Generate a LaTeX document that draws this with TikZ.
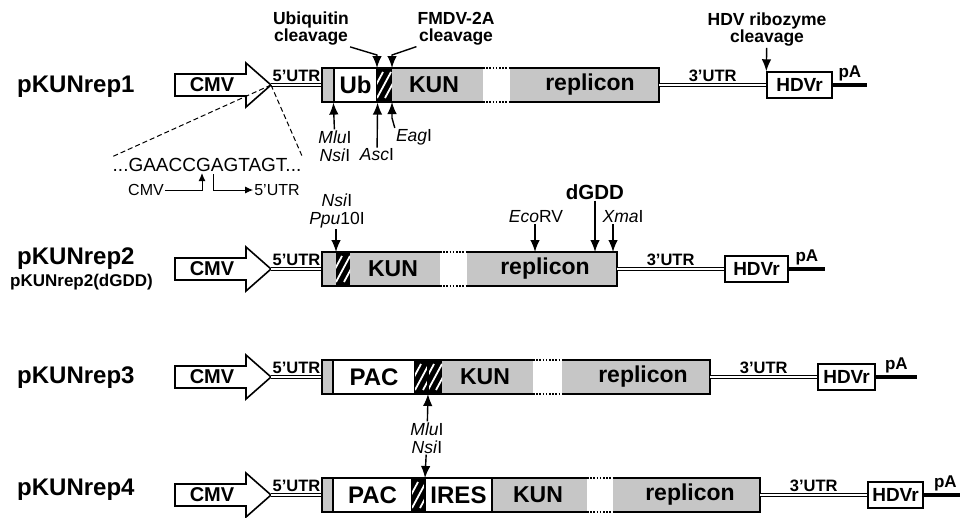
\documentclass[tikz,border=0pt]{standalone}
\usepackage{fontspec}
\setmainfont{Liberation Sans}
\usetikzlibrary{arrows.meta}

\newcommand{\pxfont}[2]{\fontsize{#1}{#2}\selectfont}
% shaded body of the replicon, white gap left open
\newcommand{\replfill}[5]{%
  \fill[gray!45] (#1,#5-17) rectangle (#4,#5+17);
  \fill[white] (#2,#5-17) rectangle (#3,#5+17);}
% frame round the body, dotted over the gap
\newcommand{\replframe}[5]{%
  \draw[line width=2.2pt] (#2,#5-17) -- (#1,#5-17) -- (#1,#5+17) -- (#2,#5+17);
  \draw[line width=2.2pt] (#3,#5-17) -- (#4,#5-17) -- (#4,#5+17) -- (#3,#5+17);
  \draw[line width=1.6pt, dash pattern=on 1.6pt off 1.6pt]
    (#2,#5-17) -- (#3,#5-17) (#2,#5+17) -- (#3,#5+17);}
% black block with white stripes (2A / linker)
\newcommand{\hatchblock}[3]{%
  \fill[black] (#1,#3-17) rectangle (#2,#3+17);
  \begin{scope}
    \clip (#1,#3-17) rectangle (#2,#3+17);
    \foreach \k in {-24,-16,...,24}
      \draw[white, line width=1.8pt] (#1+\k,#3+13) -- ++(14,-26);
  \end{scope}}

\begin{document}
\begin{tikzpicture}[
    x=1pt, y=-1pt,
    >={Latex[length=12pt,width=9.5pt]},
    rowname/.style={anchor=west, inner sep=0pt, font=\pxfont{24}{24}\bfseries},
    promoter/.style={draw, fill=white, line width=1.6pt, line join=miter},
    cmvtext/.style={inner sep=0pt, font=\pxfont{20}{20}\bfseries},
    utr/.style={double, double distance=2.2pt, line width=0.9pt},
    utrtext/.style={above, inner sep=2.5pt, font=\pxfont{16.5}{16.5}\bfseries},
    whitebox/.style={draw, fill=white, line width=1.2pt, minimum height=34pt, inner sep=0pt, font=\pxfont{24}{24}\bfseries},
    bodytext/.style={inner sep=0pt, font=\pxfont{23}{23}\bfseries},
    hdvbox/.style={draw, fill=white, line width=1.4pt, minimum height=26pt, inner sep=0pt, font=\pxfont{19}{19}\bfseries},
    polyA/.style={line width=4pt},
    patext/.style={above, inner sep=2pt, font=\pxfont{17}{17}\bfseries},
    cleave/.style={align=center, inner sep=1pt, font=\pxfont{17.5}{17}\bfseries},
    enz/.style={align=center, inner sep=1pt, font=\pxfont{17.5}{18}},
    site/.style={->, line width=1.4pt},
    thinsite/.style={-{Latex[length=8pt,width=7pt]}, line width=1pt},
    zoomline/.style={line width=1pt, dash pattern=on 5pt off 3pt},
]
    \useasboundingbox (0,0) rectangle (960,517);

    % Construct names
    \node[rowname] (rep1) at (17,87) {pKUNrep1};
    \node[rowname] (rep2) at (17,259) {pKUNrep2};
    \node[rowname, font=\pxfont{17}{17}\bfseries] (rep2d) at (10,282) {pKUNrep2(dGDD)};
    \node[rowname] (rep3) at (17,378) {pKUNrep3};
    \node[rowname] (rep4) at (17,490) {pKUNrep4};

    % CMV promoter and 5'UTR, same in every row
    \foreach \y/\r in {85/1, 269/2, 377/3, 495/4}{
        \draw[promoter] (175,\y-11) -- (246,\y-11) -- (246,\y-22) -- (271,\y)
            -- (246,\y+22) -- (246,\y+11) -- (175,\y+11) -- cycle;
        \node[cmvtext] (cmv\r) at (212,\y) {CMV};
        \coordinate (tip\r) at (271,\y);
        \draw[utr] (tip\r) -- node[utrtext] (utr5\r) {5'UTR} (322,\y);
    }

    % pKUNrep1
    \replfill{322}{483}{510}{659}{85}
    \node[whitebox, minimum width=43pt] (ub) at (355.5,85) {Ub};
    \hatchblock{377}{392}{85}
    \replframe{322}{483}{510}{659}{85}
    \node[bodytext] (kun1) at (434,85) {KUN};
    \node[bodytext] (repl1) at (590,85) {replicon};
    \coordinate (end1) at (659,85);
    \node[hdvbox, minimum width=65pt] (hdv1) at (799.5,85) {HDVr};
    \draw[utr] (end1) -- node[utrtext] (utr31) {3'UTR} (hdv1);
    \coordinate (pa1end) at (867,85);
    \draw[polyA] (hdv1) -- node[patext] (pa1) {pA} (pa1end);

    % cleavage sites above rep1
    \coordinate (ubcut) at (377,68);
    \coordinate (fmcut) at (392,68);
    \coordinate (ubbend) at (377,55);
    \coordinate (fmbend) at (392,55);
    \node[cleave] (ubq) at (311,29) {Ubiquitin\\cleavage};
    \node[cleave] (fmdv) at (456,29) {FMDV-2A\\cleavage};
    \node[cleave] (hdvcl) at (767,30) {HDV ribozyme\\cleavage};
    \draw[site] (ubq.south east) -- (ubbend) -- (ubcut);
    \draw[site] (fmdv.south west) -- (fmbend) -- (fmcut);
    \draw[site] (hdvcl) -- (hdv1.north west);

    % restriction sites below rep1
    \coordinate (fmlow) at (392,102);
    \coordinate (eagbend) at (392,118);
    \node[enz] (mlu1) at (335,146) {\textit{Mlu}I\\\textit{Nsi}I};
    \node[enz] (asc1) at (377,155) {\textit{Asc}I};
    \node[enz] (eag1) at (414,137) {\textit{Eag}I};
    \draw[site] (mlu1) -- (ub.south west);
    \draw[site] (asc1) -- (ub.south east);
    \draw[site] (eag1.north west) -- (eagbend) -- (fmlow);

    % transcription start, blown up
    \node[inner sep=1pt, font=\pxfont{19}{19}] (seq) at (207,165) {...GAACCGAGTAGT...};
    \draw[zoomline] (tip1) -- (seq.north west);
    \draw[zoomline] (tip1) -- (seq.north east);
    \node[inner sep=1pt, font=\pxfont{16}{16}] (cmvs) at (146,190) {CMV};
    \node[inner sep=1pt, font=\pxfont{16}{16}] (utrs) at (277,190) {5'UTR};
    \coordinate (tssa) at (202,173);
    \coordinate (tssb) at (213,174);
    \draw[thinsite] (cmvs) -- (cmvs -| tssa) -- (tssa);
    \draw[thinsite] (tssb) -- (tssb |- utrs) -- (utrs);

    % pKUNrep2
    \replfill{322}{440}{467}{617}{269}
    \hatchblock{336}{350}{269}
    \replframe{322}{440}{467}{617}{269}
    \node[bodytext] (kun2) at (393,269) {KUN};
    \node[bodytext] (repl2) at (545,269) {replicon};
    \coordinate (end2) at (617,269);
    \node[hdvbox, minimum width=63pt] (hdv2) at (756.5,269) {HDVr};
    \draw[utr] (end2) -- node[utrtext] (utr32) {3'UTR} (hdv2);
    \coordinate (pa2end) at (825,269);
    \draw[polyA] (hdv2) -- node[patext] (pa2) {pA} (pa2end);

    % sites on rep2
    \coordinate (cut2a) at (336,252);
    \coordinate (cut2b) at (535,252);
    \coordinate (cut2c) at (595,252);
    \coordinate (cut2d) at (613,252);
    \node[enz] (nsi2) at (337,211) {\textit{Nsi}I\\\textit{Ppu}10I};
    \node[enz] (eco2) at (536,217) {\textit{Eco}RV};
    \node[inner sep=1pt, font=\pxfont{20.5}{20.5}\bfseries] (dgdd) at (595,192) {dGDD};
    \node[enz] (xma2) at (623,217) {\textit{Xma}I};
    \draw[site] (nsi2.south -| cut2a) -- (cut2a);
    \draw[site] (eco2.south -| cut2b) -- (cut2b);
    \draw[site] (dgdd) -- (cut2c);
    \draw[site] (xma2.south -| cut2d) -- (cut2d);

    % pKUNrep3
    \replfill{322}{533}{562}{710}{377}
    \node[whitebox, minimum width=82pt] (pac3) at (374,377) {PAC};
    \hatchblock{415}{428}{377}
    \hatchblock{428}{442}{377}
    \draw[line width=2pt] (428,360) -- (428,394);
    \replframe{322}{533}{562}{710}{377}
    \node[bodytext] (kun3) at (485,377) {KUN};
    \node[bodytext] (repl3) at (643,377) {replicon};
    \coordinate (end3) at (710,377);
    \node[hdvbox, minimum width=57pt] (hdv3) at (846.5,377) {HDVr};
    \draw[utr] (end3) -- node[utrtext] (utr33) {3'UTR} (hdv3);
    \coordinate (pa3end) at (917,377);
    \draw[polyA] (hdv3) -- node[patext] (pa3) {pA} (pa3end);

    % pKUNrep4
    \replfill{322}{587}{613}{760}{495}
    \node[whitebox, minimum width=79pt] (pac4) at (372.5,495) {PAC};
    \hatchblock{412}{425}{495}
    \node[whitebox, minimum width=67pt] (ires) at (458.5,495) {IRES};
    \replframe{322}{587}{613}{760}{495}
    \node[bodytext] (kun4) at (538,495) {KUN};
    \node[bodytext] (repl4) at (690,495) {replicon};
    \coordinate (end4) at (760,495);
    \node[hdvbox, minimum width=55pt] (hdv4) at (895.5,495) {HDVr};
    \draw[utr] (end4) -- node[utrtext] (utr34) {3'UTR} (hdv4);
    \coordinate (pa4end) at (967,495);
    \draw[polyA] (hdv4) -- node[patext] (pa4) {pA} (pa4end);

    % MluI / NsiI between rep3 and rep4
    \coordinate (cut3) at (428,394);
    \coordinate (cut4) at (425,478);
    \node[enz] (mlu34) at (427,438) {\textit{Mlu}I\\\textit{Nsi}I};
    \draw[site] (mlu34) -- (cut3);
    \draw[site] (mlu34) -- (cut4);
\end{tikzpicture}
\end{document}
